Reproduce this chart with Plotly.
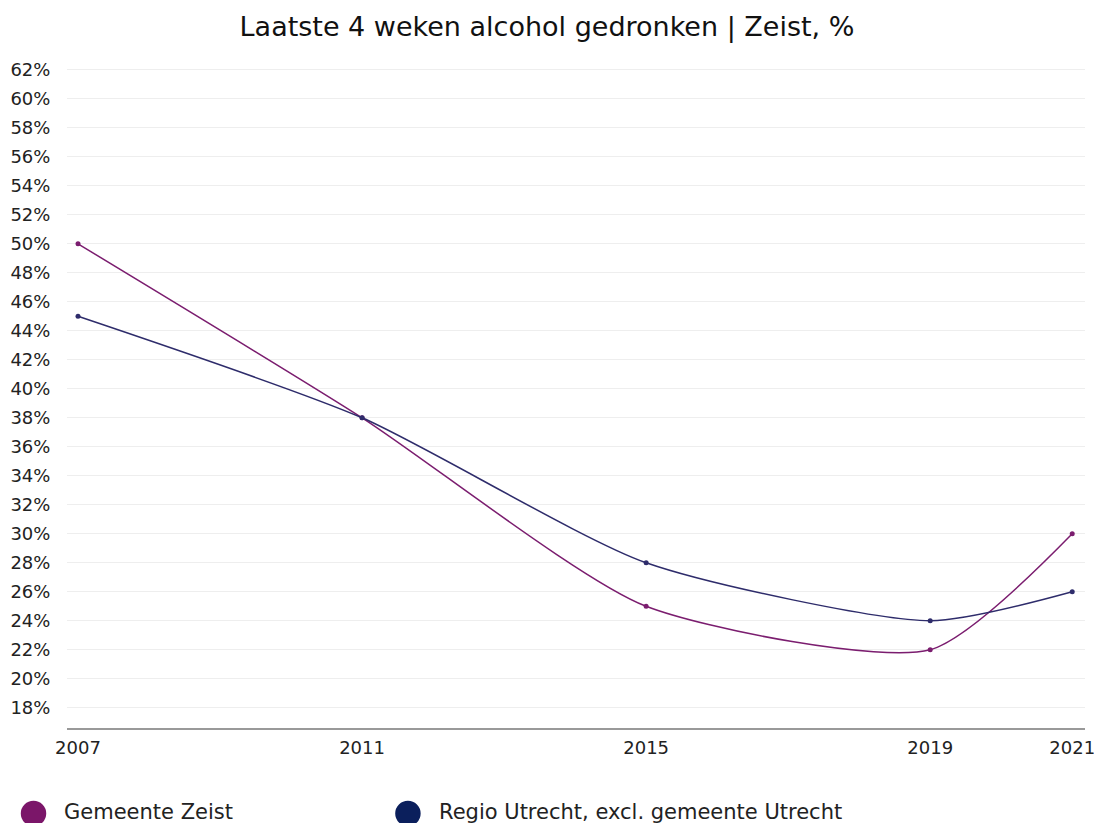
import plotly.graph_objects as go

years = [2007, 2011, 2015, 2019, 2021]
zeist = [50, 38, 25, 22, 30]
regio = [45, 38, 28, 24, 26]
series_names = ["Gemeente Zeist", "Regio Utrecht, excl. gemeente Utrecht"]
line_colors = ["#7b1d6f", "#2e2c6b"]
legend_colors = ["#7b1669", "#0b1f5c"]
y_ticks = list(range(18, 63, 2))
y_tick_labels = [f"{v}%" for v in y_ticks]

FONT = "Verdana, DejaVu Sans, sans-serif"

fig = go.Figure()
for name, vals, col in zip(series_names, [zeist, regio], line_colors):
    fig.add_trace(go.Scatter(
        x=years, y=vals, name=name, mode="lines+markers",
        line=dict(color=col, width=1.5, shape="spline", smoothing=0.65),
        marker=dict(color=col, size=5),
        showlegend=False,
        hovertemplate="%{x}: %{y}%<extra>" + name + "</extra>",
    ))

# custom legend (large circle markers)
circle_x = [-0.0329, 0.3349]
text_x = [-0.0049, 0.3635]
cy = -0.1293
for cx, tx, name, col in zip(circle_x, text_x, series_names, legend_colors):
    fig.add_shape(type="circle", xref="paper", yref="paper",
                  x0=cx - 0.0125, x1=cx + 0.0125, y0=cy - 0.0192, y1=cy + 0.0192,
                  fillcolor=col, line=dict(width=0))
    fig.add_annotation(text=name, xref="paper", yref="paper", x=tx, y=-0.127,
                       xanchor="left", yanchor="middle", showarrow=False,
                       font=dict(family=FONT, size=21, color="#222222"))

fig.update_layout(
    width=1094, height=823,
    margin=dict(l=67, r=9, t=67, b=95, autoexpand=False),
    paper_bgcolor="white", plot_bgcolor="white",
    title=dict(text="Laatste 4 weken alcohol gedronken | Zeist, %", x=0.5, xanchor="center",
               y=1 - 27 / 823, yanchor="middle",
               font=dict(family=FONT, size=27, color="#111111")),
    font=dict(family=FONT, size=18, color="#222222"),
    xaxis=dict(range=[2006.845, 2021.18], tickmode="array", tickvals=years,
               ticktext=[str(y) for y in years], showgrid=False, zeroline=False,
               showline=True, linecolor="#999999", linewidth=1.5,
               ticks="outside", ticklen=3, tickcolor="rgba(0,0,0,0)",
               ticklabeloverflow="allow", automargin=False,
               tickfont=dict(family=FONT, size=18, color="#222222")),
    yaxis=dict(range=[16.6, 62.2], tickmode="array", tickvals=y_ticks, ticktext=y_tick_labels,
               showgrid=True, gridcolor="#eeeeee", gridwidth=1, zeroline=False,
               showline=False, ticks="outside", ticklen=12, tickcolor="rgba(0,0,0,0)",
               automargin=False,
               tickfont=dict(family=FONT, size=18, color="#222222")),
)

fig.write_html("out.html", config={"displayModeBar": False},
               post_script="document.body.style.margin='0';document.body.style.overflow='hidden';")
